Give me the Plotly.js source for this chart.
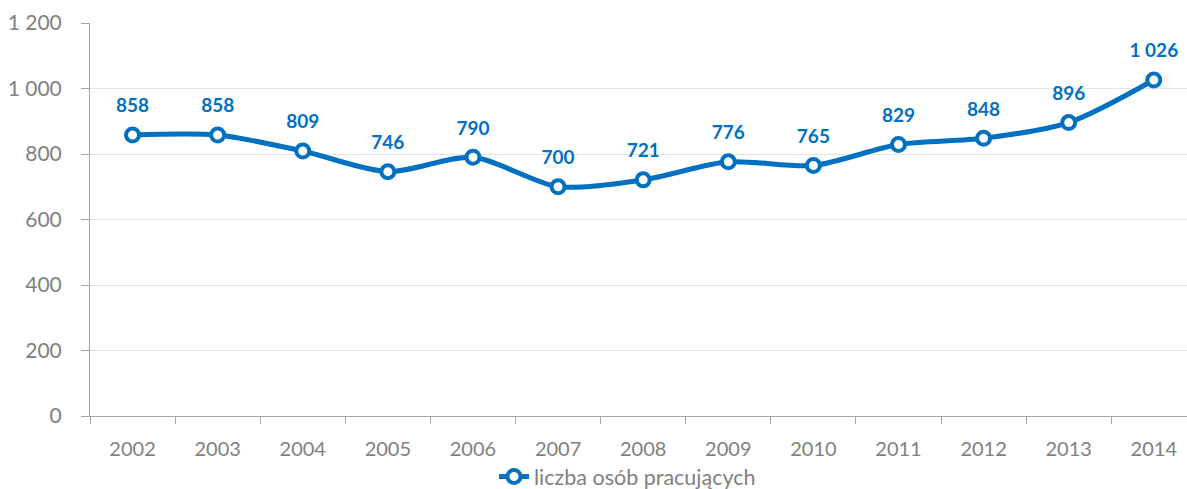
<!DOCTYPE html>
<html>
<head>
<meta charset="utf-8">
<script src="https://cdn.plot.ly/plotly-3.0.1.min.js"></script>
<style>html,body{margin:0;padding:0;background:#fff;overflow:hidden;width:1187px;height:489px}#chart{width:1187px;height:497px}</style>
</head>
<body>
<div id="chart"></div>
<script>
const years = ['2002','2003','2004','2005','2006','2007','2008','2009','2010','2011','2012','2013','2014'];
const workers = [858, 858, 809, 746, 790, 700, 721, 776, 765, 829, 848, 896, 1026];
const seriesName = 'liczba osób pracujących';
const yTicks = [0, 200, 400, 600, 800, 1000, 1200];

const fmt = v => String(v).replace(/\B(?=(\d{3})+(?!\d))/g, ' ');
const blue = '#0070C0';
const gray = '#808080';
const font = 'Lato, "Open Sans", sans-serif';

const trace = {
  x: years, y: workers, name: seriesName, type: 'scatter', mode: 'lines+markers',
  line: {color: blue, width: 5, shape: 'spline', smoothing: 0.8},
  marker: {size: 13, color: '#ffffff', line: {color: blue, width: 4}},
  hoverinfo: 'x+y'
};

// label layer: invisible larger markers push the text further above each point
const labels = {
  x: years, y: workers, type: 'scatter', mode: 'markers+text', showlegend: false,
  text: workers.map(fmt), textposition: 'top center',
  textfont: {family: font, size: 19, color: blue, weight: 'bold'},
  marker: {size: 27, color: 'rgba(0,0,0,0)', line: {width: 0}},
  hoverinfo: 'skip'
};

const xRange = [-0.5, 12.39];
const boundaries = years.slice(0, -1).map((_, i) => i + 0.5);

const layout = {
  width: 1187, height: 497,
  margin: {l: 89.5, r: 0, t: 23, b: 80.5},
  paper_bgcolor: '#fff', plot_bgcolor: '#fff',
  separators: ', ',
  showlegend: true,
  legend: {orientation: 'h', x: 0.49, xanchor: 'center', yref: 'container', y: 0, yanchor: 'bottom',
    font: {family: font, size: 21.5, color: gray}},
  xaxis: {
    type: 'category', categoryarray: years, range: xRange,
    tickson: 'boundaries', ticks: 'outside', ticklen: 7, tickcolor: '#A6A6A6', tickwidth: 1,
    showline: true, linecolor: '#A6A6A6', linewidth: 1, showgrid: false, zeroline: false,
    tickfont: {family: font, size: 20, color: gray}, ticklabelstandoff: 15
  },
  xaxis2: {
    overlaying: 'x', anchor: 'y', type: 'linear', range: xRange,
    tickmode: 'array', tickvals: boundaries, ticks: 'inside', ticklen: 7, tickcolor: '#A6A6A6', tickwidth: 1,
    showticklabels: false, showline: false, showgrid: false, zeroline: false
  },
  yaxis: {
    range: [0, 1200], tickmode: 'array', tickvals: yTicks, tickformat: ',d',
    ticks: 'outside', ticklen: 8, tickcolor: '#A6A6A6',
    showline: true, linecolor: '#A6A6A6', linewidth: 1,
    showgrid: true, gridcolor: '#E3E3E3', gridwidth: 1, zeroline: false,
    tickfont: {family: font, size: 21, color: gray}, ticklabelstandoff: 15
  }
};

Plotly.newPlot('chart', [trace, labels], layout, {displayModeBar: false, staticPlot: true});
</script>
</body>
</html>
